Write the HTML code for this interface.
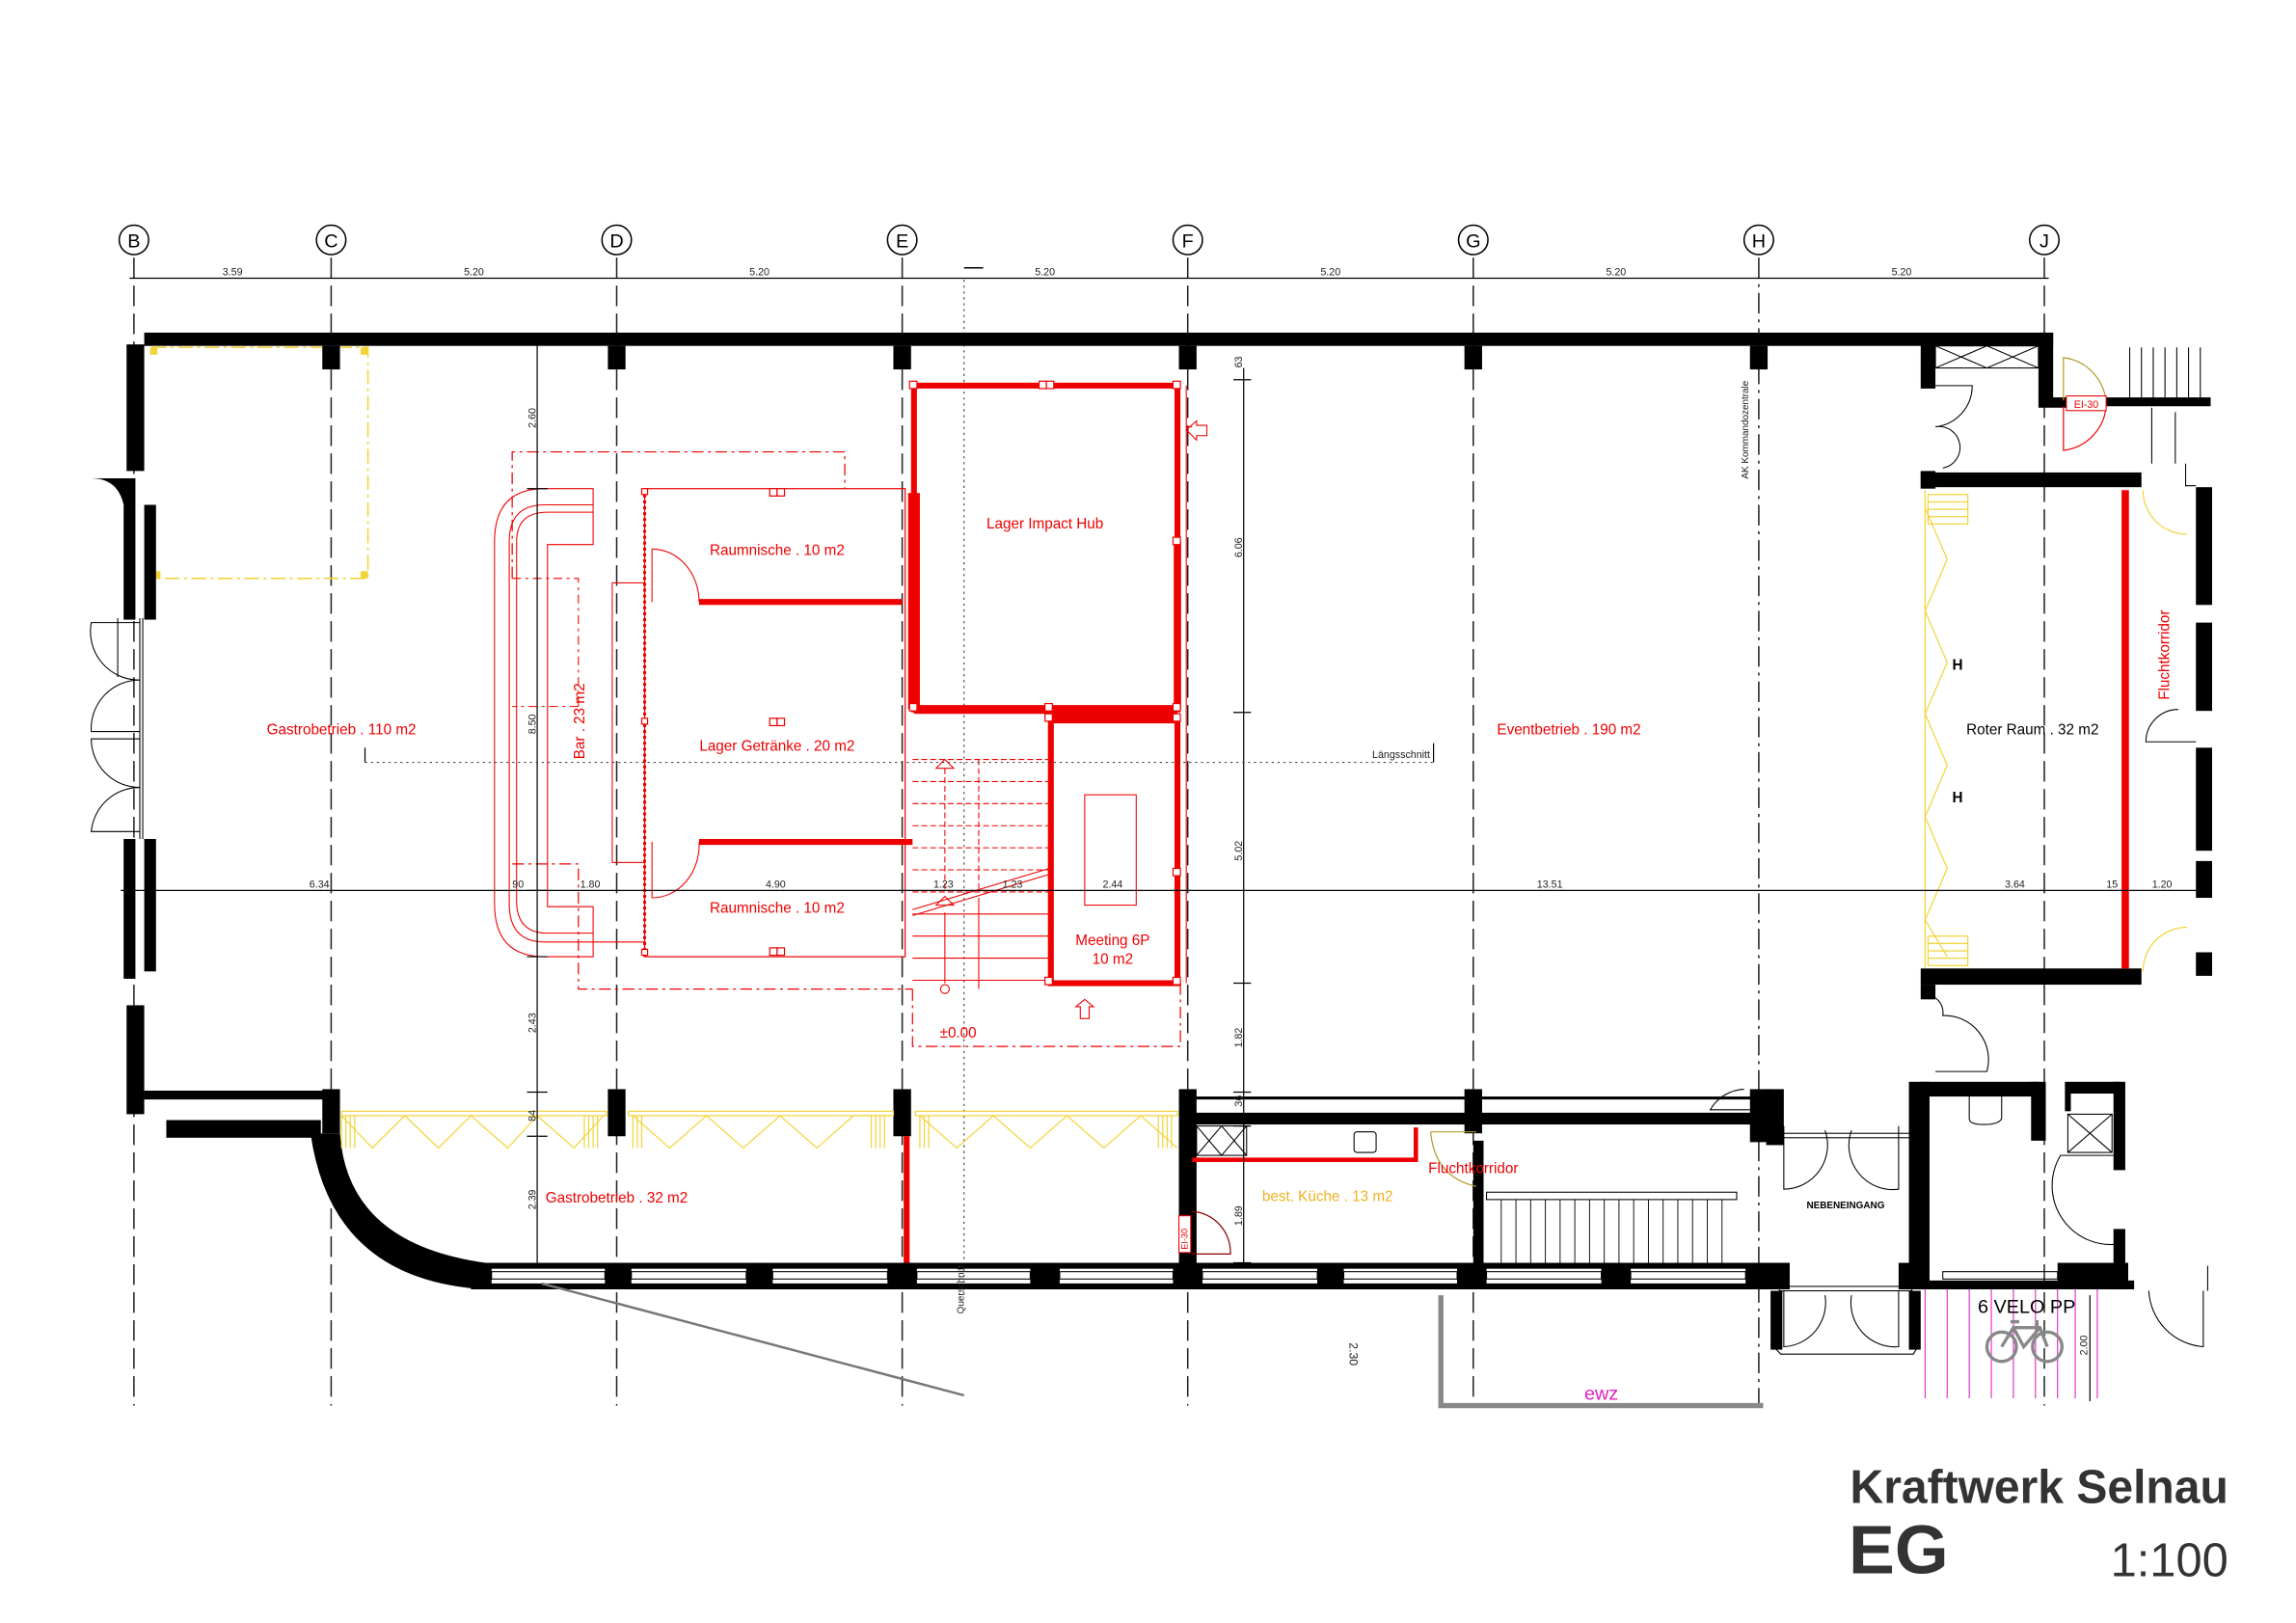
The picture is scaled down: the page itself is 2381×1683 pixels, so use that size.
<!DOCTYPE html>
<html><head><meta charset="utf-8">
<style>
html,body{margin:0;padding:0;background:#fff;}
svg{display:block;}
text{font-family:"Liberation Sans",sans-serif;}
</style></head>
<body>
<svg width="2381" height="1683" viewBox="0 0 1560 1102.7" preserveAspectRatio="none" xmlns="http://www.w3.org/2000/svg">
<rect x="0" y="0" width="1560" height="1103" fill="#fff"/>

<!-- grid lines -->
<g stroke="#222" stroke-width="1" fill="none">
  <line x1="91" y1="175" x2="91" y2="955" stroke-dasharray="14 5"/>
  <line x1="225" y1="175" x2="225" y2="955" stroke-dasharray="14 5"/>
  <line x1="419" y1="175" x2="419" y2="955" stroke-dasharray="14 5"/>
  <line x1="613" y1="175" x2="613" y2="955" stroke-dasharray="14 5"/>
  <line x1="807" y1="175" x2="807" y2="955" stroke-dasharray="14 5"/>
  <line x1="1001" y1="175" x2="1001" y2="955" stroke-dasharray="14 5"/>
  <line x1="1195" y1="175" x2="1195" y2="955" stroke-dasharray="14 4 2 4"/>
  <line x1="1389" y1="175" x2="1389" y2="955" stroke-dasharray="14 5"/>
</g>
<!-- grid circles -->
<g font-size="13" text-anchor="middle" fill="#000">
  <g fill="#fff" stroke="#000" stroke-width="1">
    <circle cx="91" cy="163" r="10"/><circle cx="225" cy="163" r="10"/><circle cx="419" cy="163" r="10"/>
    <circle cx="613" cy="163" r="10"/><circle cx="807" cy="163" r="10"/><circle cx="1001" cy="163" r="10"/>
    <circle cx="1195" cy="163" r="10"/><circle cx="1389" cy="163" r="10"/>
  </g>
  <text x="91" y="168">B</text><text x="225" y="168">C</text><text x="419" y="168">D</text>
  <text x="613" y="168">E</text><text x="807" y="168">F</text><text x="1001" y="168">G</text>
  <text x="1195" y="168">H</text><text x="1389" y="168">J</text>
</g>
<!-- top dimension -->
<line x1="88" y1="189" x2="1392" y2="189" stroke="#000" stroke-width="0.8"/>
<g font-size="7" text-anchor="middle" fill="#222">
  <text x="158" y="187">3.59</text><text x="322" y="187">5.20</text><text x="516" y="187">5.20</text>
  <text x="710" y="187">5.20</text><text x="904" y="187">5.20</text><text x="1098" y="187">5.20</text><text x="1292" y="187">5.20</text>
</g>
<line x1="655" y1="182" x2="668" y2="182" stroke="#000"/>
<line x1="655" y1="190" x2="655" y2="880" stroke="#333" stroke-width="0.7" stroke-dasharray="1.5 2.5"/>

<!-- yellow dashed room top-left -->
<path d="M103 236 H250 V393 H103" fill="none" stroke="#f2d43a" stroke-width="1" stroke-dasharray="10 3 2 3"/>
<rect x="102" y="236" width="5" height="5" fill="#f2d43a"/><rect x="245" y="236" width="5" height="5" fill="#f2d43a"/>
<rect x="104" y="388" width="5" height="5" fill="#f2d43a"/><rect x="245" y="388" width="5" height="5" fill="#f2d43a"/>

<!-- black walls -->
<g fill="#000">
  <rect x="98" y="226" width="1297" height="9"/>
  <rect x="219" y="235" width="12" height="16"/><rect x="413" y="235" width="12" height="16"/>
  <rect x="607" y="235" width="12" height="16"/><rect x="801" y="235" width="12" height="16"/>
  <rect x="995" y="235" width="12" height="16"/><rect x="1189" y="235" width="12" height="16"/>
  <!-- left wall -->
  <rect x="86" y="234" width="12" height="86"/>
  <rect x="84" y="343" width="8" height="78"/><rect x="98" y="343" width="8" height="78"/>
  <rect x="84" y="570" width="8" height="95"/><rect x="98" y="570" width="8" height="90"/>
  <rect x="86" y="683" width="12" height="74"/>
  <path d="M62 325 Q80 325 84 343 L92 343 L92 325 Z"/>
  <!-- bottom-left -->
  <rect x="98" y="741" width="132" height="6"/>
  <rect x="113" y="761" width="105" height="12"/>
  <rect x="219" y="740" width="12" height="30"/>
  <path d="M211 770 L231 770 Q236 845 330 858 L330 876 Q225 870 211 770 Z"/>
  <!-- bottom wall -->
  <rect x="320" y="858" width="895" height="4"/>
  <rect x="320" y="872" width="895" height="4"/>
  <rect x="320" y="858" width="14" height="18"/><rect x="411" y="858" width="18" height="18"/>
  <rect x="507" y="858" width="18" height="18"/><rect x="603" y="858" width="20" height="18"/>
  <rect x="700" y="858" width="20" height="18"/><rect x="797" y="858" width="20" height="18"/>
  <rect x="895" y="858" width="18" height="18"/><rect x="990" y="858" width="20" height="18"/>
  <rect x="1088" y="858" width="20" height="18"/><rect x="1186" y="858" width="30" height="18"/>
  <rect x="1290" y="858" width="18" height="18"/><rect x="1398" y="858" width="48" height="18"/>
  <rect x="1305" y="870" width="145" height="6"/>
  <!-- interior columns bottom row -->
  <rect x="413" y="740" width="12" height="32"/><rect x="607" y="740" width="12" height="32"/>
  <rect x="801" y="740" width="12" height="120"/><rect x="995" y="740" width="12" height="30"/>
  <rect x="1001" y="775" width="7" height="85"/>
  <rect x="1189" y="740" width="14" height="36"/>
  <!-- mid wall F-H -->
  <rect x="807" y="756" width="390" height="8"/>
  <rect x="807" y="745" width="390" height="2"/>
  <!-- NEBENEINGANG walls -->
  <rect x="1200" y="740" width="12" height="38"/>
  <rect x="1297" y="735" width="14" height="140"/>
  <rect x="1305" y="735" width="80" height="10"/>
  <rect x="1380" y="735" width="10" height="40"/>
  <rect x="1403" y="735" width="38" height="8"/><rect x="1403" y="743" width="4" height="12"/>
  <rect x="1436" y="735" width="8" height="60"/>
  <rect x="1436" y="835" width="8" height="40"/>
  <rect x="1203" y="877" width="8" height="40"/><rect x="1297" y="877" width="8" height="40"/>
  <!-- top-right -->
  <rect x="1305" y="234" width="10" height="30"/>
  <rect x="1385" y="226" width="10" height="45"/>
  <rect x="1385" y="270" width="22" height="7"/>
  <rect x="1430" y="270" width="72" height="6"/>
  <rect x="1305" y="320" width="10" height="12"/>
  <rect x="1305" y="321" width="150" height="10"/>
  <rect x="1305" y="658" width="150" height="11"/>
  <rect x="1492" y="331" width="11" height="80"/>
  <rect x="1492" y="423" width="11" height="60"/>
  <rect x="1492" y="508" width="11" height="70"/>
  <rect x="1492" y="585" width="11" height="25"/>
  <rect x="1492" y="647" width="11" height="16"/>
  <rect x="1305" y="669" width="10" height="10"/>
</g>
<!-- window frames bottom -->
<g fill="none" stroke="#000" stroke-width="0.7">
  <rect x="334" y="864" width="77" height="5"/><rect x="429" y="864" width="78" height="5"/>
  <rect x="525" y="864" width="78" height="5"/><rect x="623" y="864" width="77" height="5"/>
  <rect x="720" y="864" width="77" height="5"/><rect x="817" y="864" width="78" height="5"/>
  <rect x="913" y="864" width="77" height="5"/><rect x="1010" y="864" width="78" height="5"/>
  <rect x="1108" y="864" width="78" height="5"/><rect x="1320" y="864" width="78" height="5"/>
  <!-- left window -->
  <line x1="95" y1="420" x2="95" y2="570"/>
  <line x1="97" y1="420" x2="97" y2="570"/>
  <!-- left doors -->
  <path d="M95 423 H62 A33 33 0 0 0 95 462"/>
  <path d="M95 462 A33 33 0 0 0 62 497 H95"/>
  <path d="M95 502 H62 A33 33 0 0 0 95 535"/>
  <path d="M95 535 A33 33 0 0 0 62 565 H95"/>
  <line x1="80" y1="420" x2="80" y2="460"/>
  <!-- top-right stair hatch -->
  <rect x="1315" y="235" width="70" height="15"/>
  <path d="M1315 235 L1350 250 M1350 235 L1315 250 M1350 235 L1385 250 M1385 235 L1350 250"/>
  <path d="M1315 262 H1340 A28 28 0 0 1 1315 290 A12 12 0 0 1 1320 318"/>
  <path d="M1447 236 V270 M1463 236 V270 M1479 236 V270 M1495 236 V270 M1455 236 V270 M1471 236 V270 M1487 236 V270"/>
  <path d="M1462 277 V315 M1478 280 V315 M1485 315 V330 H1492"/>
  <!-- right doors -->
  <path d="M1480 482 A22 22 0 0 0 1458 504 H1492"/>
  <path d="M1315 678 A12 12 0 0 1 1320 690 A30 30 0 0 1 1350 728 H1315"/>
  <path d="M1185 740 A28 28 0 0 0 1162 754 H1189"/>
  <!-- Nebeneingang doors -->
  <path d="M1212 765 V808 A30 30 0 0 0 1240 768 M1290 765 V808 A30 30 0 0 1 1258 768"/>
  <path d="M1212 877 V915 A30 30 0 0 0 1240 880 M1290 877 V915 A30 30 0 0 1 1258 880"/>
  <path d="M1205 915 L1210 920 H1300 L1303 915"/>
  <rect x="1209" y="770" width="90" height="3"/>
  <rect x="1209" y="874" width="90" height="3"/>
  <path d="M1441 785 H1400 A40 40 0 0 0 1441 845"/>
  <rect x="1405" y="757" width="30" height="26"/>
  <path d="M1405 757 L1435 783 M1435 757 L1405 783"/>
  <path d="M1338 744 H1360 V760 Q1358 764 1348 764 Q1338 764 1338 760 Z"/>
  <path d="M1460 877 A40 40 0 0 0 1497 915 V877"/>
  <line x1="1500" y1="860" x2="1500" y2="877"/>
  <!-- kitchen hatch -->
  <rect x="813" y="765" width="34" height="20"/>
  <path d="M813 765 L830 785 M830 765 L813 785 M830 765 L847 785 M847 765 L830 785"/>
  <rect x="920" y="769" width="15" height="14" rx="2"/>
  <!-- stair bottom -->
  <rect x="1010" y="810" width="170" height="5"/>
</g>
<g stroke="#000" stroke-width="0.6">
  <path d="M1020 815V858 M1030 815V858 M1040 815V858 M1050 815V858 M1060 815V858 M1070 815V858 M1080 815V858 M1090 815V858 M1100 815V858 M1110 815V858 M1120 815V858 M1130 815V858 M1140 815V858 M1150 815V858 M1160 815V858 M1170 815V858"/>
</g>

<!-- yellow folding elements -->
<g fill="none" stroke="#f2d43a" stroke-width="0.8">
  <rect x="232" y="755" width="180" height="3"/><rect x="427" y="755" width="180" height="3"/><rect x="622" y="755" width="178" height="3"/>
  <path d="M232 758 L253 780 L275 758 L298 780 L320 758 L345 780 L365 758 L390 780 L410 758"/>
  <path d="M430 758 L455 780 L480 758 L505 780 L530 758 L555 780 L580 758 L605 758"/>
  <path d="M625 758 L650 780 L675 758 L700 780 L725 758 L750 780 L775 758 L800 780"/>
  <path d="M232 758V780 M235 758V780 M238 758V780 M241 758V780"/>
  <path d="M397 758V780 M400 758V780 M403 758V780 M406 758V780"/>
  <path d="M430 758V780 M433 758V780 M436 758V780"/>
  <path d="M592 758V780 M595 758V780 M598 758V780 M601 758V780"/>
  <path d="M625 758V780 M628 758V780 M631 758V780"/>
  <path d="M787 758V780 M790 758V780 M793 758V780 M796 758V780"/>
  <!-- roter raum -->
  <line x1="1308" y1="333" x2="1308" y2="658"/>
  <path d="M1308 345 L1323 380 L1308 415 L1323 450 L1308 485 L1323 520 L1308 555 L1323 590 L1308 625 L1323 650"/>
  <rect x="1310" y="336" width="27" height="20"/>
  <path d="M1310 341 H1337 M1310 346 H1337 M1310 351 H1337"/>
  <rect x="1310" y="636" width="27" height="20"/>
  <path d="M1310 641 H1337 M1310 646 H1337 M1310 651 H1337"/>
  <path d="M1456 333 A30 30 0 0 0 1486 363"/>
  <path d="M1456 660 A30 30 0 0 1 1486 630"/>
</g>
<path d="M1402 272 V243 A33 33 0 0 1 1431 276" fill="none" stroke="#b29a2e" stroke-width="0.8"/>
<path d="M1402 276 V306 A33 33 0 0 0 1431 276" fill="none" stroke="#e00" stroke-width="0.8"/>
<rect x="1404" y="269" width="27" height="10" fill="#fff" stroke="#e00" stroke-width="0.7"/>
<text x="1417.5" y="277" font-size="7" fill="#e00" text-anchor="middle">EI-30</text>
<path d="M972 769 H1003 M972 769 Q975 800 1003 806" fill="none" stroke="#b29a2e" stroke-width="0.8"/>

<!-- red elements -->
<g fill="none" stroke="#e00">
  <!-- Lager Impact Hub -->
  <rect x="621" y="262" width="179" height="220" stroke-width="4"/>
  <line x1="621" y1="335" x2="621" y2="482" stroke-width="8"/>
  <line x1="621" y1="482" x2="800" y2="482" stroke-width="6"/>
  <line x1="800" y1="368" x2="800" y2="482" stroke-width="5"/>
  <!-- meeting -->
  <rect x="714" y="488" width="86" height="180" stroke-width="4"/>
  <line x1="714" y1="488" x2="800" y2="488" stroke-width="7"/>
  <rect x="737" y="540" width="35" height="75" stroke-width="0.7"/>
  <path d="M806 262 V668" stroke-width="0.7"/>
  <path d="M810 290 L806 290" stroke-width="0.7"/>
  <path d="M806 292 L813 286 V289 H820 V296 H813 V299 Z" stroke-width="0.7"/>
  <path d="M737 679 L731 684 H734 V692 H740 V684 H743 Z" stroke-width="0.7"/>
  <!-- raumnische -->
  <rect x="438" y="332" width="177" height="318" stroke-width="0.8"/>
  <line x1="438" y1="332" x2="438" y2="650" stroke-width="2" stroke-dasharray="2 2"/>
  <line x1="475" y1="409" x2="613" y2="409" stroke-width="4"/>
  <line x1="475" y1="572" x2="620" y2="572" stroke-width="4"/>
  <path d="M443 373 A32 36 0 0 1 475 409" stroke-width="0.7"/>
  <path d="M443 373 V409 M443 572 V610" stroke-width="0.7"/>
  <path d="M475 572 A32 36 0 0 1 443 610" stroke-width="0.7"/>
  <rect x="416" y="396" width="22" height="190" stroke-width="0.7"/>
  <!-- bar -->
  <path d="M403 332 H370 Q336 332 336 368 V614 Q336 650 370 650 H403 V616 H372 V370 H403 Z" stroke-width="0.7"/>
  <path d="M403 343 H370 Q346 343 346 368 V614 Q346 640 370 640 H438" stroke-width="0.7"/>
  <path d="M403 348 H372 Q351 348 351 368 V612 Q351 634 372 634 H403" stroke-width="0.7"/>
  <!-- dash-dot -->
  <path d="M348 393 V307 H574 V332" stroke-width="0.8" stroke-dasharray="8 3 2 3"/>
  <path d="M348 393 H393 V480 M393 480 H348" stroke-width="0.7" stroke-dasharray="6 3 2 3"/>
  <path d="M348 587 H393 V672 H620" stroke-width="0.8" stroke-dasharray="8 3 2 3"/>
  <path d="M620 672 V711 H802 V668" stroke-width="0.8" stroke-dasharray="8 3 2 3"/>
  <!-- stairs -->
  <g stroke-width="0.7" stroke-dasharray="4 2">
    <path d="M620 516 H713 M620 531 H713 M620 546 H713 M620 561 H713 M620 576 H713 M620 591 H713 M620 606 H713"/>
    <path d="M665 516 V606 M642 522 V606"/>
  </g>
  <g stroke-width="0.7">
    <path d="M620 621 H713 M620 636 H713 M620 651 H713 M620 666 H713 M665 610 V672 M642 620 V668"/>
    <path d="M620 618 L713 590 M620 622 L713 594"/>
    <path d="M636 522 L642 516 L648 522 Z M636 615 L642 609 L648 615 Z"/>
    <circle cx="642" cy="672" r="3"/>
  </g>
  <!-- red line bottom -->
  <line x1="616" y1="772" x2="616" y2="858" stroke-width="4"/>
  <!-- kitchen -->
  <path d="M810 788 H962 V766" stroke-width="3"/>
  <!-- roter raum red line -->
  <line x1="1444" y1="333" x2="1444" y2="658" stroke-width="5"/>
</g>
<g fill="#fff" stroke="#e00" stroke-width="0.8">
  <rect x="523" y="332" width="5" height="5"/><rect x="528" y="332" width="5" height="5"/>
  <rect x="523" y="488" width="5" height="5"/><rect x="528" y="488" width="5" height="5"/>
  <rect x="523" y="644" width="5" height="5"/><rect x="528" y="644" width="5" height="5"/>
  <rect x="706" y="259" width="5" height="5"/><rect x="711" y="259" width="5" height="5"/>
  <rect x="618" y="259" width="5" height="5"/><rect x="797" y="259" width="5" height="5"/>
  <rect x="618" y="478" width="5" height="5"/><rect x="710" y="478" width="5" height="5"/><rect x="797" y="478" width="5" height="5"/>
  <rect x="710" y="485" width="5" height="5"/><rect x="797" y="485" width="5" height="5"/>
  <rect x="710" y="664" width="5" height="5"/><rect x="797" y="664" width="5" height="5"/>
  <rect x="797" y="365" width="5" height="5"/><rect x="797" y="590" width="5" height="5"/>
  <rect x="436" y="332" width="4" height="4"/><rect x="436" y="488" width="4" height="4"/><rect x="436" y="645" width="4" height="4"/>
</g>
<path d="M810 823 A28 28 0 0 1 836 852 H810" fill="none" stroke="#8b0000" stroke-width="0.8"/>
<rect x="801" y="826" width="8" height="25" fill="#fff" stroke="#e00" stroke-width="0.7"/>
<text x="0" y="0" font-size="6" fill="#e00" transform="translate(807,849) rotate(-90)">EI-30</text>

<!-- dimension lines -->
<g stroke="#000" stroke-width="0.8" fill="none">
  <line x1="82" y1="605" x2="1500" y2="605"/>
  <line x1="365" y1="234" x2="365" y2="858"/>
  <line x1="845" y1="250" x2="845" y2="858"/>
  <path d="M358 332 H372 M358 650 H372 M358 605 H372 M358 742 H372 M358 772 H372"/>
  <path d="M838 258 H850 M838 484 H850 M838 668 H850 M838 742 H850 M838 765 H850 M838 858 H850"/>
  <line x1="1420" y1="880" x2="1420" y2="952"/>
  <line x1="248" y1="508" x2="248" y2="518"/>
  <line x1="974" y1="505" x2="974" y2="518"/>
</g>
<line x1="248" y1="518" x2="974" y2="518" stroke="#333" stroke-width="0.7" stroke-dasharray="1.5 2.5"/>
<g font-size="7" fill="#222" text-anchor="middle">
  <text x="217" y="603">6.34</text><text x="352" y="603">90</text><text x="401" y="603">1.80</text>
  <text x="527" y="603">4.90</text><text x="641" y="603">1.23</text><text x="688" y="603">1.23</text>
  <text x="756" y="603">2.44</text><text x="1053" y="603">13.51</text><text x="1369" y="603">3.64</text>
  <text x="1435" y="603">15</text><text x="1469" y="603">1.20</text>
  <text transform="translate(364,284) rotate(-90)">2.60</text>
  <text transform="translate(364,492) rotate(-90)">8.50</text>
  <text transform="translate(364,695) rotate(-90)">2.43</text>
  <text transform="translate(364,758) rotate(-90)">84</text>
  <text transform="translate(364,815) rotate(-90)">2.39</text>
  <text transform="translate(844,246) rotate(-90)">63</text>
  <text transform="translate(844,372) rotate(-90)">6.06</text>
  <text transform="translate(844,578) rotate(-90)">5.02</text>
  <text transform="translate(844,705) rotate(-90)">1.82</text>
  <text transform="translate(844,748) rotate(-90)">36</text>
  <text transform="translate(844,826) rotate(-90)">1.89</text>
  <text transform="translate(917,920) rotate(90)" font-size="8">2.30</text>
  <text transform="translate(1418,914) rotate(-90)">2.00</text>
  <text transform="translate(655,876) rotate(-90)" font-size="6.5">Querschnitt</text>
  <text transform="translate(1188,292) rotate(-90)" font-size="6.5">AK Kommandozentrale</text>
  <text x="952" y="515" font-size="7">Längsschnitt</text>
</g>

<!-- room labels -->
<g font-size="10" fill="#e00" text-anchor="middle">
  <text x="232" y="499">Gastrobetrieb . 110 m2</text>
  <text x="528" y="377">Raumnische . 10 m2</text>
  <text x="528" y="510">Lager Getränke . 20 m2</text>
  <text x="528" y="620">Raumnische . 10 m2</text>
  <text x="710" y="359">Lager Impact Hub</text>
  <text x="756" y="642">Meeting 6P</text>
  <text x="756" y="655">10 m2</text>
  <text x="651" y="705">±0.00</text>
  <text x="1066" y="499">Eventbetrieb . 190 m2</text>
  <text x="419" y="817">Gastrobetrieb . 32 m2</text>
  <text x="1001" y="797">Fluchtkorridor</text>
  <text transform="translate(397,490) rotate(-90)">Bar . 23 m2</text>
  <text transform="translate(1474,445) rotate(-90)">Fluchtkorridor</text>
  <text x="902" y="816" fill="#f0b020">best. Küche . 13 m2</text>
  <text x="1381" y="499" fill="#000">Roter Raum . 32 m2</text>
</g>
<g font-size="10" font-weight="bold" fill="#000" text-anchor="middle">
  <text x="1330" y="455">H</text><text x="1330" y="545">H</text>
</g>
<text x="1254" y="821" font-size="6.5" font-weight="bold" text-anchor="middle">NEBENEINGANG</text>

<!-- bottom extras -->
<line x1="368" y1="872" x2="655" y2="948" stroke="#777" stroke-width="1.6"/>
<path d="M979 880 V955 H1198" fill="none" stroke="#888" stroke-width="3.5"/>
<line x1="1001" y1="954" x2="1198" y2="954" stroke="#888" stroke-width="1"/>
<text x="1088" y="951" font-size="13" fill="#e020c0" text-anchor="middle">ewz</text>
<g stroke="#e020c0" stroke-width="0.7">
  <path d="M1308 876V950 M1323 876V950 M1338 876V950 M1353 876V950 M1368 876V950 M1383 876V950 M1398 876V950 M1410 876V950 M1425 876V950"/>
</g>
<text x="1377" y="892" font-size="13" fill="#000" text-anchor="middle">6 VELO PP</text>
<g fill="none" stroke="#888" stroke-width="2.2">
  <circle cx="1360" cy="915" r="10"/><circle cx="1391" cy="915" r="10"/>
  <path d="M1360 915 L1368 902 H1386 L1391 915 M1368 902 L1375 915 L1386 902 M1366 898 H1372 M1384 897 V902"/>
</g>

<!-- title -->
<text x="1257" y="1021" font-size="32" font-weight="bold" fill="#333" textLength="257" lengthAdjust="spacingAndGlyphs">Kraftwerk Selnau</text>
<text x="1256" y="1069" font-size="47" font-weight="bold" fill="#333">EG</text>
<text x="1514" y="1071" font-size="32" fill="#333" text-anchor="end">1:100</text>
</svg>
</body></html>
